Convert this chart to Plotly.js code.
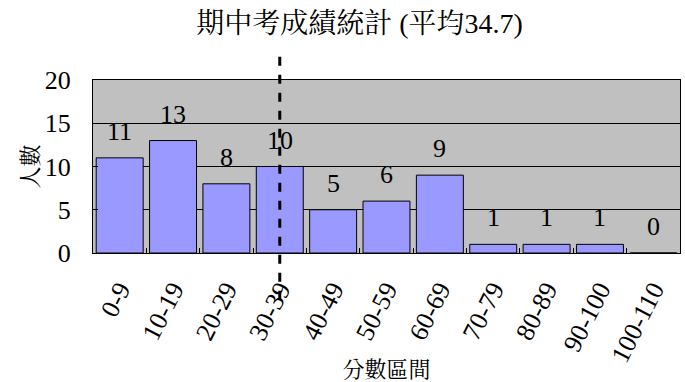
<!DOCTYPE html>
<html><head><meta charset="utf-8">
<script src="https://cdn.plot.ly/plotly-3.0.1.min.js"></script>
<style>body{margin:0;background:#fff}#c{width:685px;height:382px}</style>
</head><body><div id="c"></div>
<script>
const categories = ['0-9','10-19','20-29','30-39','40-49','50-59','60-69','70-79','80-89','90-100','100-110'];
const counts = [11,13,8,10,5,6,9,1,1,1,0];
const meanCategory = '30-39';
const titleText = '期中考成績統計 (平均34.7)';

const F = '"Liberation Serif", "Noto Serif CJK TC", "Noto Sans CJK TC", serif';

const annotations = categories.map((c,i)=>({
  x:c, y:counts[i], xref:'x', yref:'y', text:String(counts[i]),
  showarrow:false, yanchor:'bottom', yshift:10,
  font:{family:F,size:26,color:'#000'}
}));

Plotly.newPlot('c',[{
  type:'bar', x:categories, y:counts,
  marker:{color:'#9999FF', line:{color:'#000', width:1}},
  hoverinfo:'none'
}],{
  width:685, height:382,
  margin:{l:93,r:5,t:80,b:129},
  paper_bgcolor:'#fff', plot_bgcolor:'#C0C0C0',
  bargap:0.12,
  showlegend:false,
  title:{text:titleText, x:0.525, xanchor:'center', y:0.94, yanchor:'middle',
         font:{family:F,size:28,color:'#000'}},
  xaxis:{type:'category', tickangle:-63, tickson:'boundaries', ticks:'inside', ticklen:5,
         tickcolor:'#000', showline:true, linecolor:'#000', linewidth:1, mirror:true,
         showgrid:false, ticklabelstandoff:10, tickfont:{family:F,size:26,color:'#000'},
         title:{text:'分數區間', font:{family:F,size:22,color:'#000'}, standoff:2}},
  yaxis:{range:[0,20], dtick:5, ticks:'inside', ticklen:5, tickcolor:'#000',
         showline:true, linecolor:'#000', linewidth:1, mirror:true,
         showgrid:true, gridcolor:'#000', gridwidth:1, zeroline:false,
         ticklabelstandoff:16,
         tickfont:{family:F,size:26,color:'#000'},
         title:{text:'人數', font:{family:F,size:22,color:'#000'}, standoff:0}},
  annotations:annotations,
  shapes:[{type:'line', xref:'x', yref:'paper', x0:meanCategory, x1:meanCategory,
           y0:-0.27, y1:1.145, line:{color:'#000', width:3, dash:'dash'}}]
},{displayModeBar:false, staticPlot:true});
</script></body></html>
